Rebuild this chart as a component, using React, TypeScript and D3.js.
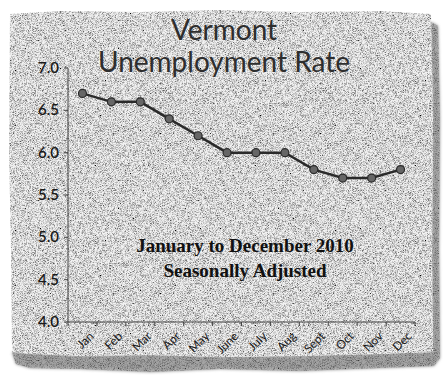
import React from "react";
import * as d3 from "d3";

const months = ["Jan", "Feb", "Mar", "Apr", "May", "June", "July", "Aug", "Sept", "Oct", "Nov", "Dec"];
const rates = [6.7, 6.6, 6.6, 6.4, 6.2, 6.0, 6.0, 6.0, 5.8, 5.7, 5.7, 5.8];
const yTicks = [4.0, 4.5, 5.0, 5.5, 6.0, 6.5, 7.0];
const titleLines = ["Vermont", "Unemployment Rate"];
const subtitleLines = ["January to December 2010", "Seasonally Adjusted"];

const W = 443;
const H = 384;
const left = 68;
const right = 415;
const top = 68;
const bottom = 322;

export default function App() {
  const x = d3.scaleBand<string>().domain(months).range([left, right]);
  const y = d3.scaleLinear().domain([4, 7]).range([bottom, top]);
  const line = d3
    .line<number>()
    .x((_, i) => (x(months[i]) as number) + x.bandwidth() / 2)
    .y((d) => y(d));

  const paperPath =
    "M10,14 L60,11 L140,12 L220,10 L300,12 L380,11 L431,14 L433,120 L432,250 L433,352 L380,354 L300,356 L220,357 L150,355 L80,356 L30,354 L12,352 L11,250 L9,150 Z";
  const shadowPath =
    "M431,22 L438,26 L440,120 L439,250 L440,358 L434,366 L380,368 L300,371 L220,369 L150,372 L80,369 L30,368 L16,364 L12,352 L80,356 L150,355 L220,357 L300,356 L380,354 L433,352 L432,250 L433,120 Z";

  return (
    <svg
      width={W}
      height={H}
      style={{ position: "absolute", left: 0, top: 0, background: "#fff" }}
    >
      <defs>
        <filter id="noise" x="0" y="0" width="100%" height="100%">
          <feTurbulence type="fractalNoise" baseFrequency="1.6" numOctaves={1} seed={3} result="t" />
          <feColorMatrix
            in="t"
            type="matrix"
            values="0 0 0 0 0  0 0 0 0 0  0 0 0 0 0  0 0 0 -2.4 1.45"
            result="n"
          />
          <feComposite in="n" in2="SourceGraphic" operator="in" result="m" />
          <feMerge>
            <feMergeNode in="SourceGraphic" />
            <feMergeNode in="m" />
          </feMerge>
        </filter>
        <filter id="blur">
          <feGaussianBlur stdDeviation="1.5" />
        </filter>
      </defs>

      <path d={shadowPath} fill="#8a8a8a" filter="url(#blur)" />
      <path d={shadowPath} fill="#b0b0b0" filter="url(#noise)" opacity={0.7} />
      <path d={paperPath} fill="#f2f2f2" filter="url(#noise)" />

      {titleLines.map((t, i) => (
        <text
          key={t}
          x={224}
          y={40 + i * 32}
          textAnchor="middle"
          fontFamily="Lato, 'Open Sans', sans-serif"
          fontWeight={400}
          fontSize={28}
          fill="#2e2e2e"
        >
          {t}
        </text>
      ))}

      <line x1={left} x2={left} y1={top} y2={bottom} stroke="#444" strokeWidth={1} />
      <line x1={left} x2={right} y1={bottom} y2={bottom} stroke="#444" strokeWidth={1} />
      {yTicks.map((v) => (
        <g key={v}>
          <line x1={left - 4} x2={left} y1={y(v)} y2={y(v)} stroke="#444" />
          <text
            x={left - 9}
            y={y(v) + 5}
            textAnchor="end"
            fontFamily="Lato, sans-serif"
            fontWeight={600}
            fontSize={15}
            fill="#1a1a1a"
          >
            {v.toFixed(1)}
          </text>
        </g>
      ))}
      {months.map((m) => (
        <line
          key={"t" + m}
          x1={x(m) as number}
          x2={x(m) as number}
          y1={bottom}
          y2={bottom + 4}
          stroke="#444"
        />
      ))}
      <line x1={right} x2={right} y1={bottom} y2={bottom + 4} stroke="#444" />
      {months.map((m) => {
        const cx = (x(m) as number) + x.bandwidth() / 2 + 6;
        const cy = bottom + 9;
        return (
          <text
            key={m}
            x={cx}
            y={cy}
            transform={`rotate(-45 ${cx} ${cy})`}
            textAnchor="end"
            dy="0.7em"
            fontFamily="Lato, sans-serif"
            fontSize={12}
            fill="#1a1a1a"
          >
            {m}
          </text>
        );
      })}

      <path d={line(rates) as string} fill="none" stroke="#2a2a2a" strokeWidth={2.5} />
      {rates.map((r, i) => (
        <circle
          key={i}
          cx={(x(months[i]) as number) + x.bandwidth() / 2}
          cy={y(r)}
          r={4}
          fill="#666"
          stroke="#2a2a2a"
          strokeWidth={1.2}
        />
      ))}

      {subtitleLines.map((t, i) => (
        <text
          key={t}
          x={245}
          y={252 + i * 25}
          textAnchor="middle"
          fontFamily="'Liberation Serif', 'Times New Roman', serif"
          fontWeight="bold"
          fontSize={19}
          fill="#111"
        >
          {t}
        </text>
      ))}
    </svg>
  );
}
